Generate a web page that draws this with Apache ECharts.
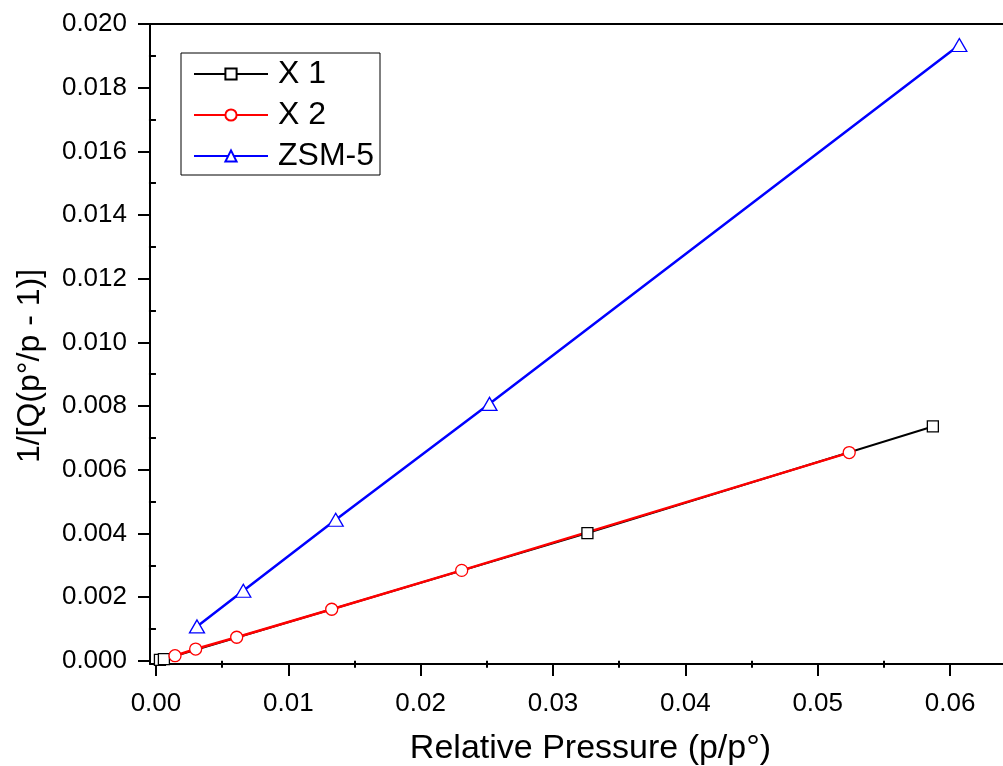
<!DOCTYPE html>
<html>
<head>
<meta charset="utf-8">
<script src="https://cdn.jsdelivr.net/npm/echarts@6/dist/echarts.min.js"></script>
<style>html,body{margin:0;padding:0;background:#fff;}#c{width:1003px;height:766px;}</style>
</head>
<body>
<div id="c"></div>
<script>
var seriesNames = ['X 1', 'X 2', 'ZSM-5'];
var x1X = [0.0003, 0.0006, 0.0326, 0.0587];
var x1Y = [0.00003, 0.00005, 0.00401, 0.00736];
var x2X = [0.00144, 0.0030, 0.0061, 0.01328, 0.0231, 0.05238];
var x2Y = [0.00016, 0.00037, 0.00074, 0.00162, 0.00284, 0.00654];
var zX = [0.0031, 0.0066, 0.01358, 0.0252, 0.0607];
var zY = [0.00108, 0.0022, 0.00443, 0.00807, 0.01934];
var xTicks = [0, 0.01, 0.02, 0.03, 0.04, 0.05, 0.06];
var xMinor = [0.005, 0.015, 0.025, 0.035, 0.045, 0.055];
var yTicks = [0, 0.002, 0.004, 0.006, 0.008, 0.010, 0.012, 0.014, 0.016, 0.018, 0.020];
var yMinor = [0.001, 0.003, 0.005, 0.007, 0.009, 0.011, 0.013, 0.015, 0.017, 0.019];

function pairs(xs, ys) { return xs.map(function (v, i) { return [v, ys[i]]; }); }

var FONT = 'Liberation Sans, Arial, sans-serif';
var XMIN = -0.00045, XMAX = 0.064, YMIN = -0.0001, YMAX = 0.020;

var chart = echarts.init(document.getElementById('c'), null, {renderer: 'canvas'});
chart.setOption({
  animation: false,
  backgroundColor: '#fff',
  grid: {left: 150, right: 0, top: 24, bottom: 102, outerBoundsMode: 'none'},
  legend: {
    orient: 'vertical', left: 181, top: 53,
    padding: [5, 6, 3, 12],
    borderColor: '#000', borderWidth: 1,
    itemWidth: 74, itemHeight: 14, itemGap: 9,
    data: seriesNames,
    lineStyle: {width: 2},
    textStyle: {fontFamily: FONT, fontSize: 32, lineHeight: 32, color: '#000', padding: [0, 0, 0, 5]}
  },
  xAxis: [{
    type: 'value', min: XMIN, max: XMAX, position: 'bottom',
    name: 'Relative Pressure (p/p°)', nameLocation: 'middle', nameGap: 68,
    nameTextStyle: {fontFamily: FONT, fontSize: 34, color: '#000', padding: [0, 0, 0, 28]},
    axisLine: {show: true, onZero: false, lineStyle: {color: '#000', width: 2}},
    axisTick: {show: true, inside: false, length: 12, customValues: xTicks, lineStyle: {color: '#000', width: 2}},
    axisLabel: {customValues: xTicks, margin: 27, fontFamily: FONT, fontSize: 26, color: '#000',
      formatter: function (v) { return v.toFixed(2); }},
    splitLine: {show: false}
  }, {
    type: 'value', min: XMIN, max: XMAX, position: 'bottom',
    axisLine: {show: false},
    axisTick: {show: true, length: 7, customValues: xMinor, lineStyle: {color: '#000', width: 2}},
    axisLabel: {show: false}, splitLine: {show: false}
  }, {
    type: 'value', min: XMIN, max: XMAX, position: 'top',
    axisLine: {show: true, onZero: false, lineStyle: {color: '#000', width: 2}},
    axisTick: {show: false}, axisLabel: {show: false}, splitLine: {show: false}
  }],
  yAxis: [{
    type: 'value', min: YMIN, max: YMAX, position: 'left',
    name: '1/[Q(p°/p - 1)]', nameLocation: 'middle', nameGap: 104, nameRotate: 90,
    nameTextStyle: {fontFamily: FONT, fontSize: 32, color: '#000', padding: [0, 44, 0, 0]},
    axisLine: {show: true, onZero: false, lineStyle: {color: '#000', width: 2}},
    axisTick: {show: true, length: 12, customValues: yTicks, lineStyle: {color: '#000', width: 2}},
    axisLabel: {customValues: yTicks, margin: 23, fontFamily: FONT, fontSize: 26, color: '#000',
      formatter: function (v) { return v.toFixed(3); }},
    splitLine: {show: false}
  }, {
    type: 'value', min: YMIN, max: YMAX, position: 'left',
    axisLine: {show: false},
    axisTick: {show: true, length: 7, customValues: yMinor, lineStyle: {color: '#000', width: 2}},
    axisLabel: {show: false}, splitLine: {show: false}
  }],
  series: [{
    name: seriesNames[0], type: 'line', xAxisIndex: 0, yAxisIndex: 0,
    data: pairs(x1X, x1Y), symbol: 'rect', symbolSize: 11, showAllSymbol: true,
    lineStyle: {color: '#000', width: 2},
    itemStyle: {color: '#fff', borderColor: '#000', borderWidth: 1.3}
  }, {
    name: seriesNames[1], type: 'line', xAxisIndex: 0, yAxisIndex: 0,
    data: pairs(x2X, x2Y), symbol: 'circle', symbolSize: 12, showAllSymbol: true,
    lineStyle: {color: '#ff0000', width: 2.5},
    itemStyle: {color: '#fff', borderColor: '#ff0000', borderWidth: 1.3}
  }, {
    name: seriesNames[2], type: 'line', xAxisIndex: 0, yAxisIndex: 0,
    data: pairs(zX, zY), symbol: 'triangle', symbolSize: [15, 13], showAllSymbol: true,
    lineStyle: {color: '#0000ff', width: 2.5},
    itemStyle: {color: '#fff', borderColor: '#0000ff', borderWidth: 1.3}
  }]
});
</script>
</body>
</html>
